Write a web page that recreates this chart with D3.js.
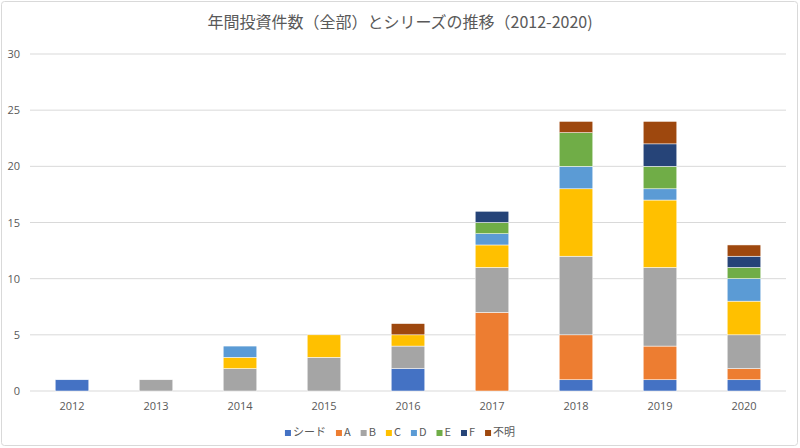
<!DOCTYPE html>
<html><head><meta charset="utf-8">
<script src="https://cdn.jsdelivr.net/npm/d3@7"></script>
<style>body{margin:0;background:#fff;font-family:"Noto Sans CJK JP","Open Sans",sans-serif;}</style>
</head><body><svg id="c" width="800" height="448"></svg>
<script>
const years = ["2012","2013","2014","2015","2016","2017","2018","2019","2020"];
const seriesNames = ["シード","A","B","C","D","E","F","不明"];
const seed    = [1,0,0,0,2,0,1,1,1];
const sA      = [0,0,0,0,0,7,4,3,1];
const sB      = [0,1,2,3,2,4,7,7,3];
const sC      = [0,0,1,2,1,2,6,6,3];
const sD      = [0,0,1,0,0,1,2,1,2];
const sE      = [0,0,0,0,0,1,3,2,1];
const sF      = [0,0,0,0,0,1,0,2,1];
const sUnknown= [0,0,0,0,1,0,1,2,1];
const yTicks = [0,5,10,15,20,25,30];
const colors = ["#4472C4","#ED7D31","#A5A5A5","#FFC000","#5B9BD5","#70AD47","#264478","#9E480E"];

const allSeries = [seed,sA,sB,sC,sD,sE,sF,sUnknown];
const rows = years.map((y,i)=>{const r={year:y}; seriesNames.forEach((n,k)=>r[n]=allSeries[k][i]); return r;});
const stack = d3.stack().keys(seriesNames)(rows);

const svg = d3.select("#c");
svg.append("rect").attr("x",1.5).attr("y",1.5).attr("width",796).attr("height",444).attr("rx",3)
  .attr("fill","#fff").attr("stroke","#d9d9d9");

const x = d3.scaleBand().domain(years).range([30,786]).paddingInner(0.6).paddingOuter(0.3);
const y = d3.scaleLinear().domain([0,30]).range([391,54]);

const grid = svg.append("g");
grid.selectAll("line").data(yTicks).join("line")
  .attr("x1",30).attr("x2",786).attr("y1",d=>y(d)).attr("y2",d=>y(d))
  .attr("stroke","#d9d9d9").attr("stroke-width",1);

svg.append("g").selectAll("text").data(yTicks).join("text")
  .attr("x",20).attr("y",d=>y(d)+4).attr("text-anchor","end")
  .attr("font-size",11).attr("fill","#595959").attr("font-family","Open Sans, sans-serif").text(d=>d);

svg.append("g").selectAll("g").data(stack).join("g").attr("fill",(d,i)=>colors[i])
  .selectAll("rect").data(d=>d.filter(v=>v[1]>v[0])).join("rect")
  .attr("x",d=>x(d.data.year)).attr("width",x.bandwidth())
  .attr("y",d=>y(d[1])).attr("height",d=>y(d[0])-y(d[1]))
  .attr("stroke","#fff").attr("stroke-width",0.5);

svg.append("g").selectAll("text").data(years).join("text")
  .attr("x",d=>x(d)+x.bandwidth()/2).attr("y",410).attr("text-anchor","middle")
  .attr("font-size",11).attr("fill","#595959").attr("font-family","Open Sans, sans-serif").text(d=>d);

svg.append("text").attr("x",400).attr("y",28).attr("text-anchor","middle")
  .attr("font-size",16).attr("fill","#595959").text("年間投資件数（全部）とシリーズの推移（2012-2020)");

// legend
const lg = svg.append("g");
let lx = 0;
const items = [];
seriesNames.forEach((n,i)=>{
  const g = lg.append("g");
  g.append("rect").attr("x",0).attr("y",-6).attr("width",6).attr("height",6).attr("fill",colors[i]);
  const t = g.append("text").attr("x",8).attr("y",0).attr("font-size",11).attr("fill","#595959").text(n);
  const w = 8 + t.node().getComputedTextLength();
  g.attr("transform",`translate(${lx},0)`);
  lx += w + 10;
});
const totalW = lx - 10;
lg.attr("transform",`translate(${400-totalW/2},436)`);
</script></body></html>
